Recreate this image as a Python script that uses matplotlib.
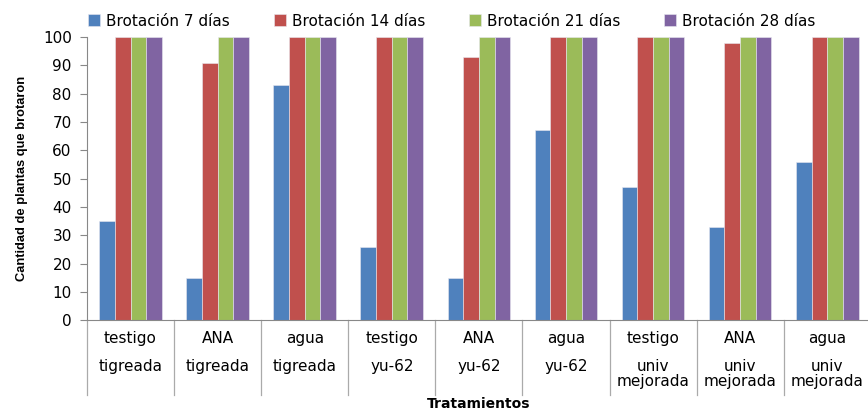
import matplotlib.pyplot as plt
import matplotlib.transforms as mtransforms
import numpy as np

row1 = ["testigo", "ANA", "agua", "testigo", "ANA", "agua", "testigo", "ANA", "agua"]
row2 = ["tigreada", "tigreada", "tigreada", "yu-62", "yu-62", "yu-62",
        "univ\nmejorada", "univ\nmejorada", "univ\nmejorada"]

series_names = ["Brotación 7 días", "Brotación 14 días", "Brotación 21 días", "Brotación 28 días"]
dias7 = [35, 15, 83, 26, 15, 67, 47, 33, 56]
dias14 = [100, 91, 100, 100, 93, 100, 100, 98, 100]
dias21 = [100, 100, 100, 100, 100, 100, 100, 100, 100]
dias28 = [100, 100, 100, 100, 100, 100, 100, 100, 100]

colors = ["#4F81BD", "#C0504D", "#9BBB59", "#8064A2"]

fig = plt.figure(figsize=(8.68, 4.12), dpi=100)
ax = fig.add_axes([0.1002, 0.223, 0.906, 0.687])

x = np.arange(len(row1))
w = 0.18
for k, (vals, name, c) in enumerate(zip([dias7, dias14, dias21, dias28], series_names, colors)):
    ax.bar(x + (k - 1.5) * w, vals, w, color=c, label=name,
           edgecolor="#e8e8f0", linewidth=0.4)

ax.set_xlim(-0.5, 8.53)
ax.set_ylim(0, 100)
ax.set_yticks(range(0, 101, 10))
ax.set_xticks([])
ax.tick_params(axis="y", direction="out", length=5, color="#888888", labelsize=11, pad=6)
for s in ["top", "right"]:
    ax.spines[s].set_visible(False)
ax.spines["left"].set_color("#888888")
ax.spines["bottom"].set_color("#888888")

# category labels and separators below the axis
trans = mtransforms.blended_transform_factory(ax.transData, ax.transAxes)
for b in np.arange(-0.5, 9.0, 1.0):
    ax.plot([b, b], [0, -0.265], transform=trans, color="#aaaaaa", lw=0.9, clip_on=False)
for i in x:
    ax.text(i, -0.064, row1[i], transform=trans, ha="center", va="center", fontsize=11)
    ax.text(i, -0.137, row2[i], transform=trans, ha="center", va="top", fontsize=11,
            linespacing=1.0)

ax.set_ylabel("Cantidad de plantas que brotaron", fontsize=9.3, fontweight="bold",
              family=["Liberation Sans Narrow", "Liberation Sans"], labelpad=11)
fig.text(0.551, 0.003, "Tratamientos", ha="center", va="bottom", fontsize=10, fontweight="bold")

fig.legend(loc="upper left", bbox_to_anchor=(0.089, 0.993), ncol=4, frameon=False,
           fontsize=11, handlelength=0.8, handleheight=0.8, handletextpad=0.4,
           columnspacing=2.85, borderaxespad=0.3)

fig.savefig("out.png", dpi=100)
